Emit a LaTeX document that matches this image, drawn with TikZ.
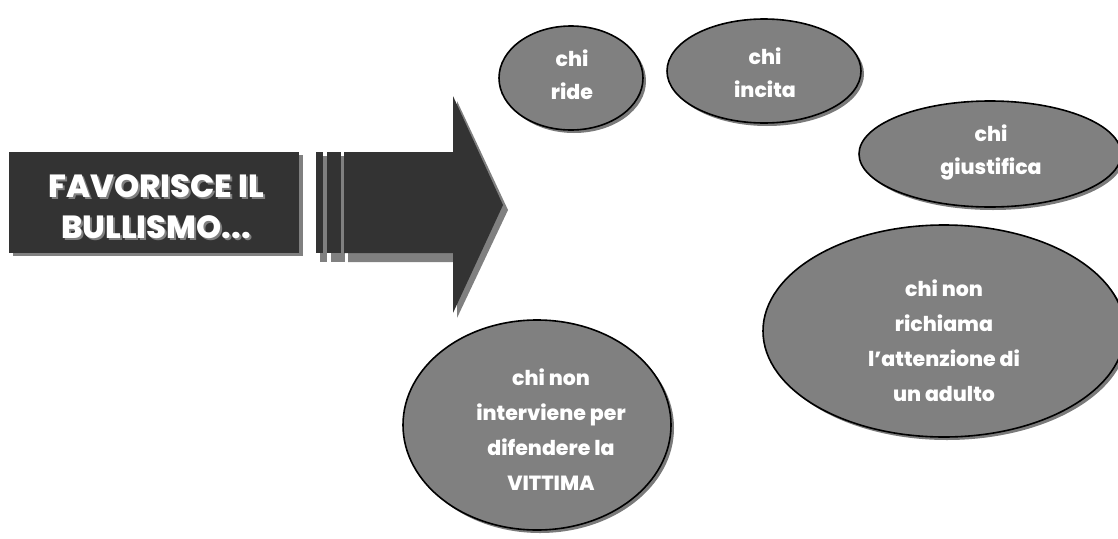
\documentclass[tikz,border=0pt]{standalone}
\usepackage{fontspec}
\setmainfont{Poppins}[UprightFont=* ExtraBold]
\usetikzlibrary{shapes.geometric,shadows}
\definecolor{darkfill}{HTML}{333333}
\definecolor{bubblefill}{HTML}{808080}
\definecolor{shadowgray}{HTML}{7A7A7A}
\tikzset{
  bubble/.style={ellipse, draw=black, line width=1.6pt, fill=bubblefill, inner sep=0pt,
    drop shadow={shadow xshift=3pt, shadow yshift=-3pt, fill=shadowgray, opacity=1}},
  btext/.style={text=white, align=center, font=\fontsize{20.5}{35}\selectfont},
  stext/.style={text=white, align=center, font=\fontsize{20.5}{33}\selectfont},
  titletext/.style={align=center, font=\fontsize{32}{41}\selectfont},
}
\begin{document}
\begin{tikzpicture}[x=1pt,y=-1pt]
\useasboundingbox (0,0) rectangle (1118,538);
% title box
\fill[bubblefill] (13,155) rectangle (303,256);
\node[fill=darkfill, minimum width=290pt, minimum height=101pt, inner sep=0pt, anchor=north west] (box) at (9,152) {};
\node[titletext, text=bubblefill] (titleshadow) at ([xshift=2pt,yshift=-2pt]156,207) {FAVORISCE IL\\BULLISMO...};
\node[titletext, text=white] (title) at (156,207) {FAVORISCE IL\\BULLISMO...};
% arrow
\fill[bubblefill] (320,156) rectangle (327,262);
\fill[bubblefill] (331,156) rectangle (345,262);
\fill[bubblefill] (348,156) -- (457,156) -- (457,101) -- (508,210) -- (457,318) -- (457,262) -- (348,262) -- cycle;
\fill[darkfill] (316,152) rectangle (323,253);
\fill[darkfill] (327,152) rectangle (341,253);
\fill[darkfill] (344,152) -- (453,152) -- (453,96) -- (503,205) -- (453,313) -- (453,253) -- (344,253) -- cycle;
% bubbles
\node[bubble, minimum width=144pt, minimum height=104pt] (ride) at (571,78) {};
\node[stext] (tride) at (572,75) {chi\\ride};
\node[bubble, minimum width=194pt, minimum height=104pt] (incita) at (764,71) {};
\node[stext] (tincita) at (765,73) {chi\\incita};
\node[bubble, minimum width=262pt, minimum height=106pt] (giust) at (990,154) {};
\node[stext] (tgiust) at (991,152) {chi\\giustifica};
\node[bubble, minimum width=362pt, minimum height=212pt] (richiama) at (944,331) {};
\node[btext] (trichiama) at (944,341) {chi non\\richiama\\l'attenzione di\\un adulto};
\node[bubble, minimum width=268pt, minimum height=210pt] (interv) at (537,425) {};
\node[btext] (tinterv) at (551,430) {chi non\\interviene per\\difendere la\\VITTIMA};
\end{tikzpicture}
\end{document}
